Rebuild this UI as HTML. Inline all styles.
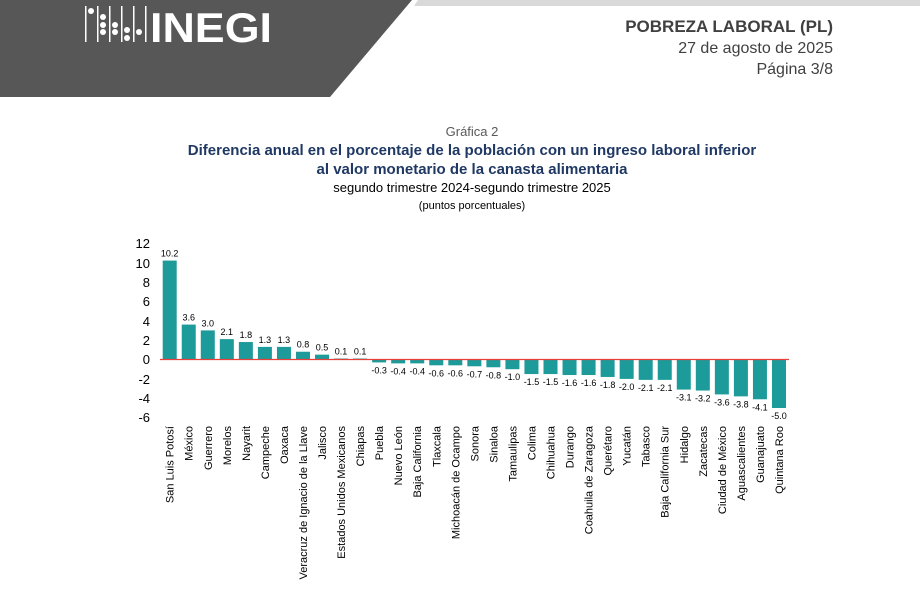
<!DOCTYPE html>
<html><head><meta charset="utf-8"><style>
body{margin:0;width:920px;height:601px;background:#fff;overflow:hidden;font-family:"Liberation Sans",sans-serif}
</style></head><body>
<svg width="920" height="601" xmlns="http://www.w3.org/2000/svg" font-family="Liberation Sans, sans-serif">
<polygon points="0,0 412,0 330,97 0,97" fill="#575757"/>
<polygon points="418,0 920,0 920,6 414,6" fill="#d9d9d9"/>
<g fill="#fff">
<rect x="85" y="6" width="1.5" height="36"/><rect x="97" y="6" width="1.5" height="36"/><rect x="109" y="6" width="1.5" height="36"/><rect x="121" y="6" width="1.5" height="36"/><rect x="133" y="6" width="1.5" height="36"/><rect x="145" y="6" width="1.5" height="36"/>
<circle cx="91" cy="11" r="3"/><circle cx="103" cy="17" r="3"/><circle cx="103" cy="25" r="3"/><circle cx="103" cy="32" r="3"/><circle cx="115" cy="25" r="3"/><circle cx="115" cy="32" r="3"/><circle cx="127" cy="30" r="3"/><circle cx="127" cy="38" r="3"/><circle cx="139" cy="32" r="3"/>
</g>
<text x="150" y="42" font-size="42" font-weight="bold" fill="#fff" textLength="122" lengthAdjust="spacingAndGlyphs">INEGI</text>
<g text-anchor="end" fill="#404040">
<text x="833" y="32" font-size="17" font-weight="bold">POBREZA LABORAL (PL)</text>
<text x="833" y="53" font-size="16">27 de agosto de 2025</text>
<text x="833" y="74" font-size="16">Página 3/8</text>
</g>
<g text-anchor="middle">
<text x="472" y="136" font-size="13" fill="#595959">Gráfica 2</text>
<text x="472" y="155" font-size="15" font-weight="bold" fill="#1f3864">Diferencia anual en el porcentaje de la población con un ingreso laboral inferior</text>
<text x="472" y="174" font-size="15" font-weight="bold" fill="#1f3864">al valor monetario de la canasta alimentaria</text>
<text x="472" y="192" font-size="13" fill="#000">segundo trimestre 2024-segundo trimestre 2025</text>
<text x="472" y="209" font-size="11" fill="#000">(puntos porcentuales)</text>
</g>
<g text-anchor="end" font-size="13" fill="#000">
<text x="150" y="248">12</text><text x="150" y="268">10</text><text x="150" y="287">8</text><text x="150" y="306">6</text><text x="150" y="326">4</text><text x="150" y="345">2</text><text x="150" y="364">0</text><text x="150" y="384">-2</text><text x="150" y="403">-4</text><text x="150" y="422">-6</text>
</g>
<g id="bars"></g>
<line x1="160" y1="359.5" x2="789" y2="359.5" stroke="#e8413b" stroke-width="1.2"/>
</svg>
<script>
var d=[["San Luis Potosí",10.2],["México",3.6],["Guerrero",3.0],["Morelos",2.1],["Nayarit",1.8],["Campeche",1.3],["Oaxaca",1.3],["Veracruz de Ignacio de la Llave",0.8],["Jalisco",0.5],["Estados Unidos Mexicanos",0.1],["Chiapas",0.1],["Puebla",-0.3],["Nuevo León",-0.4],["Baja California",-0.4],["Tlaxcala",-0.6],["Michoacán de Ocampo",-0.6],["Sonora",-0.7],["Sinaloa",-0.8],["Tamaulipas",-1.0],["Colima",-1.5],["Chihuahua",-1.5],["Durango",-1.6],["Coahuila de Zaragoza",-1.6],["Querétaro",-1.8],["Yucatán",-2.0],["Tabasco",-2.1],["Baja California Sur",-2.1],["Hidalgo",-3.1],["Zacatecas",-3.2],["Ciudad de México",-3.6],["Aguascalientes",-3.8],["Guanajuato",-4.1],["Quintana Roo",-5.0]];
var s="",z=359.5,k=9.7;
d.forEach(function(e,i){var cx=169.7+19.04*i,v=e[1],h=Math.abs(v)*k,y=v>=0?z-h:z;
s+='<rect x="'+(cx-7)+'" y="'+y+'" width="14" height="'+h+'" fill="#1d9a9a"/>';
var ty=v>=0?z-h-4:z+h+11;
s+='<text x="'+cx+'" y="'+ty+'" font-size="9" text-anchor="middle" fill="#000">'+v.toFixed(1)+'</text>';
s+='<text transform="translate('+(cx+4)+',426) rotate(-90)" font-size="11" text-anchor="end" fill="#000">'+e[0]+'</text>';});
document.getElementById("bars").innerHTML=s;
</script>
</body></html>
